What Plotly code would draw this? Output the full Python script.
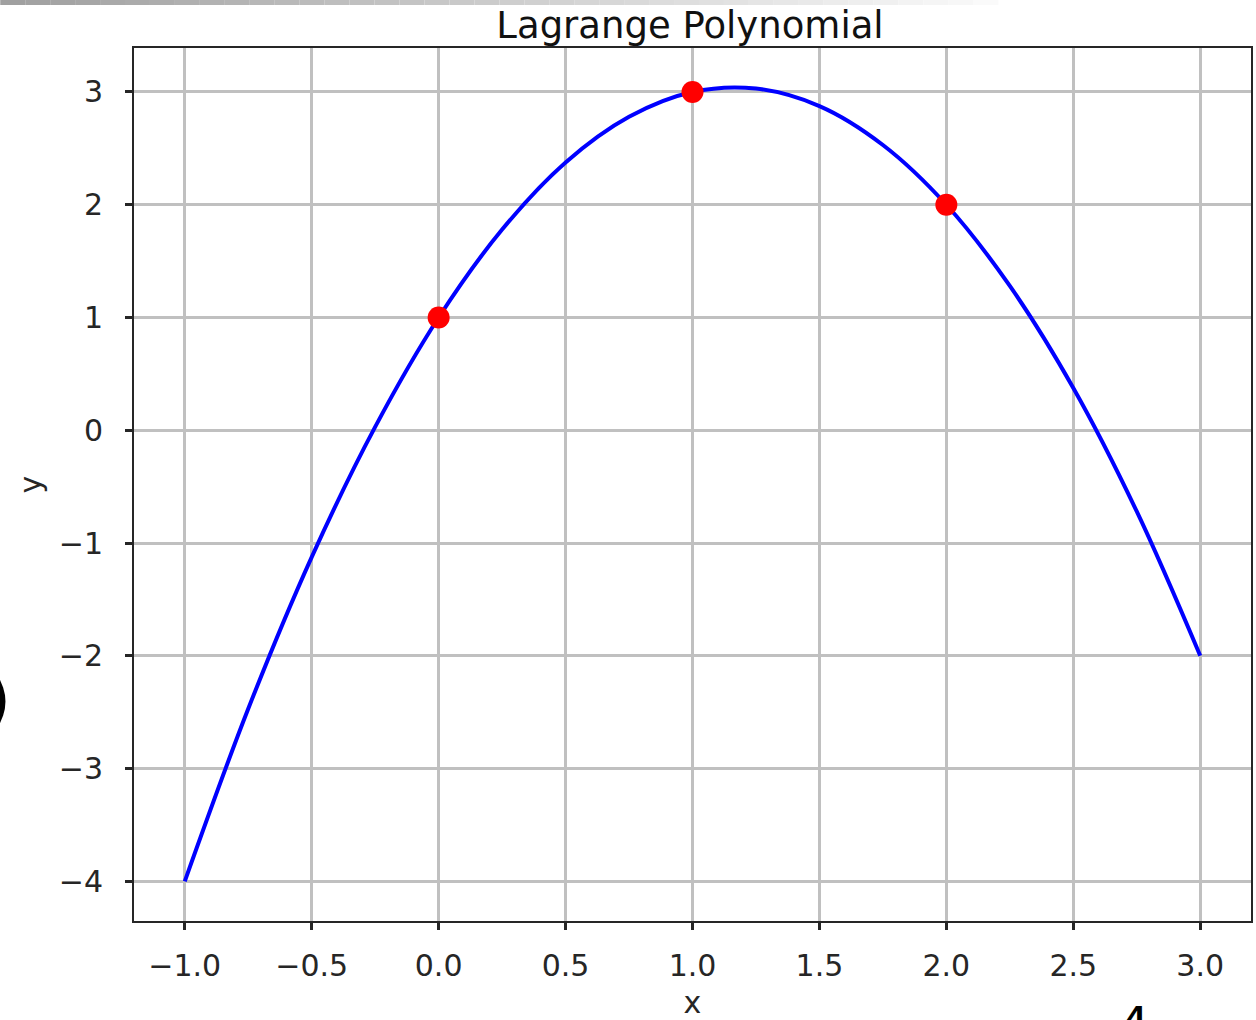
import plotly.graph_objects as go

# Interpolation nodes (red points)
node_x = [0.0, 1.0, 2.0]
node_y = [1.0, 3.0, 2.0]

# Curve values
curve_x = [-1.0, -0.75, -0.5, -0.25, 0.0, 0.25, 0.5, 0.75, 1.0, 1.25, 1.5, 1.75, 2.0, 2.25, 2.5, 2.75, 3.0]
curve_y = [-4.0, -2.47, -1.125, 0.03, 1.0, 1.78, 2.375, 2.78, 3.0, 3.03, 2.875, 2.53, 2.0, 1.28, 0.375, -0.72, -2.0]

x_ticks = [-1.0, -0.5, 0.0, 0.5, 1.0, 1.5, 2.0, 2.5, 3.0]
x_tick_labels = ["\u22121.0", "\u22120.5", "0.0", "0.5", "1.0", "1.5", "2.0", "2.5", "3.0"]
y_ticks = [-4, -3, -2, -1, 0, 1, 2, 3]
y_tick_labels = ["\u22124", "\u22123", "\u22122", "\u22121", "0", "1", "2", "3"]

W, H = 1256, 1020
ML, MR, MT, MB = 134, 3, 48, 99
PW, PH = W - ML - MR, H - MT - MB

def px_x(p):
    return (p - ML) / PW

def px_y(p):
    return (H - MB - p) / PH

font_family = "DejaVu Sans"
ink = "#262626"

fig = go.Figure()
fig.add_trace(go.Scatter(x=curve_x, y=curve_y, mode="lines",
                         line=dict(color="#0000ff", width=4, shape="spline", smoothing=1.0),
                         showlegend=False, hoverinfo="skip"))
fig.add_trace(go.Scatter(x=node_x, y=node_y, mode="markers",
                         marker=dict(color="#ff0000", size=22, line=dict(width=0)),
                         showlegend=False))

axis_common = dict(
    showgrid=True, gridcolor="#c0c0c0", gridwidth=3,
    zeroline=False, showline=True, linecolor=ink, linewidth=2, mirror=True,
    ticks="outside", ticklen=7, tickwidth=3, tickcolor=ink,
    tickfont=dict(family=font_family, size=30, color=ink),
)

fig.update_layout(
    width=W, height=H,
    margin=dict(l=ML, r=MR, t=MT, b=MB),
    paper_bgcolor="white", plot_bgcolor="white",
    title=dict(text="Lagrange Polynomial", x=px_x(691), xref="paper", xanchor="center",
               y=1 - 25 / H, yanchor="middle",
               font=dict(family=font_family, size=37, color="#111111")),
    xaxis=dict(range=[-1.2, 3.2], tickvals=x_ticks, ticktext=x_tick_labels,
               title=dict(text="x", font=dict(family=font_family, size=30, color=ink), standoff=13),
               ticklabelstandoff=10, **axis_common),
    yaxis=dict(range=[-4.352, 3.39], tickvals=y_ticks, ticktext=y_tick_labels,
               title=dict(text="y", font=dict(family=font_family, size=30, color=ink), standoff=8),
               ticklabelstandoff=16, **axis_common),
    showlegend=False,
)

# screenshot-edge artifacts: gray gradient band at top
n_seg = 40
for i in range(n_seg):
    t = i / (n_seg - 1)
    g = int(160 + (250 - 160) * t)
    fig.add_shape(type="rect", xref="paper", yref="paper",
                  x0=px_x(i * 25), x1=px_x((i + 1) * 25),
                  y0=px_y(5), y1=px_y(0), fillcolor=f"rgb({g},{g},{g})",
                  line=dict(width=0), layer="above")

fig.add_annotation(text=")", xref="paper", yref="paper", x=px_x(13), y=px_y(700),
                   xanchor="right", yanchor="middle", showarrow=False,
                   font=dict(family=font_family, size=64, color="#000000"))
fig.add_annotation(text="4", xref="paper", yref="paper", x=px_x(1136), y=px_y(994),
                   xanchor="center", yanchor="top", showarrow=False,
                   font=dict(family=font_family, size=48, color="#000000"))

fig.write_html("out.html", config={"displayModeBar": False},
               post_script="document.body.style.margin='0';document.body.style.overflow='hidden';")
